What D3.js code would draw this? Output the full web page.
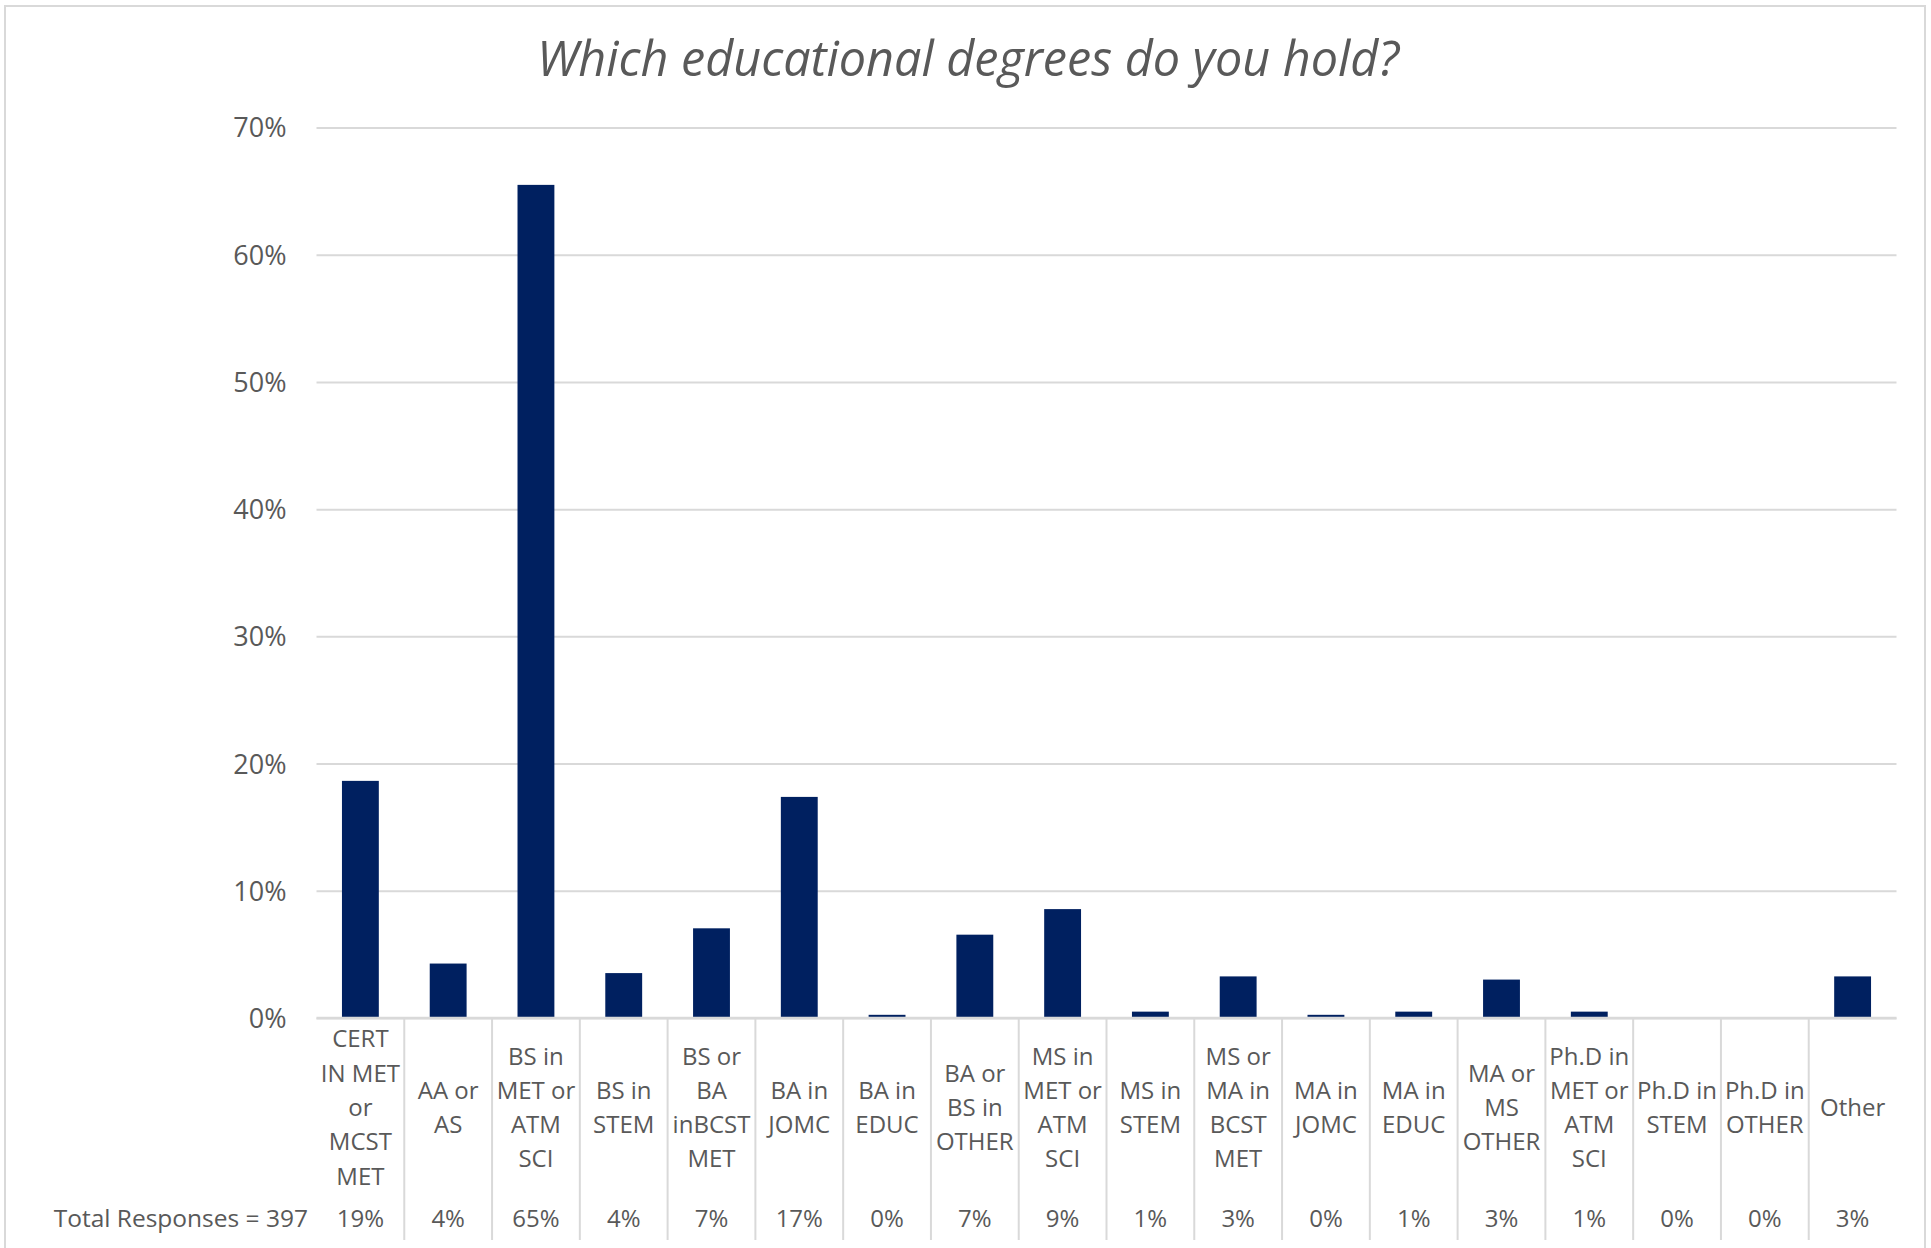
<!DOCTYPE html>
<html>
<head>
<meta charset="utf-8">
<script src="https://cdn.jsdelivr.net/npm/d3@7"></script>
<style>
  html, body { margin: 0; padding: 0; background: #ffffff; }
  svg { display: block; }
  text { font-family: "Open Sans", "Noto Sans", sans-serif; fill: #595959; }
</style>
</head>
<body>
<svg id="chart" width="1931" height="1248"></svg>
<script>
// ---- data ----
const title = "Which educational degrees do you hold?";
const seriesName = "Total Responses = 397";
const categories = [
  "CERT IN MET or MCST MET", "AA or AS", "BS in MET or ATM SCI", "BS in STEM",
  "BS or BA inBCST MET", "BA in JOMC", "BA in EDUC", "BA or BS in OTHER",
  "MS in MET or ATM SCI", "MS in STEM", "MS or MA in BCST MET", "MA in JOMC",
  "MA in EDUC", "MA or MS OTHER", "Ph.D in MET or ATM SCI", "Ph.D in STEM",
  "Ph.D in OTHER", "Other"
];
const categoryLines = [
  ["CERT", "IN MET", "or", "MCST", "MET"], ["AA or", "AS"], ["BS in", "MET or", "ATM", "SCI"],
  ["BS in", "STEM"], ["BS or", "BA", "inBCST", "MET"], ["BA in", "JOMC"], ["BA in", "EDUC"],
  ["BA or", "BS in", "OTHER"], ["MS in", "MET or", "ATM", "SCI"], ["MS in", "STEM"],
  ["MS or", "MA in", "BCST", "MET"], ["MA in", "JOMC"], ["MA in", "EDUC"],
  ["MA or", "MS", "OTHER"], ["Ph.D in", "MET or", "ATM", "SCI"], ["Ph.D in", "STEM"],
  ["Ph.D in", "OTHER"], ["Other"]
];
const values = [
  0.1864, 0.0428, 0.6549, 0.0353, 0.0705, 0.1738, 0.0025, 0.0655, 0.0856,
  0.0050, 0.0327, 0.0025, 0.0050, 0.0302, 0.0050, 0.0, 0.0, 0.0327
];
const tableLabels = ["19%","4%","65%","4%","7%","17%","0%","7%","9%","1%","3%","0%","1%","3%","1%","0%","0%","3%"];
const yTicks = [0, 0.1, 0.2, 0.3, 0.4, 0.5, 0.6, 0.7];

// ---- layout ----
const svg = d3.select("#chart");
const plotLeft = 316.5, plotRight = 1896.5, plotTop = 127.5, plotBottom = 1018;
const tableBottom = 1240;
const gridColor = "#d9d9d9";

// chart border
svg.append("rect")
  .attr("x", 5).attr("y", 6).attr("width", 1920).attr("height", 1260)
  .attr("fill", "none").attr("stroke", gridColor).attr("stroke-width", 2);

const x = d3.scaleBand().domain(categories).range([plotLeft, plotRight])
  .paddingInner(0.58).paddingOuter(0.29);
const xCol = d3.scaleBand().domain(categories).range([plotLeft, plotRight]).padding(0);
const y = d3.scaleLinear().domain([0, 0.7]).range([plotBottom, plotTop]);

// title
svg.append("text")
  .attr("x", 968).attr("y", 76)
  .attr("text-anchor", "middle")
  .style("font-style", "italic")
  .style("font-size", "48.5px")
  .text(title);

// gridlines + y labels via axis
const yAxis = d3.axisLeft(y).tickValues(yTicks).tickFormat(d3.format(".0%"))
  .tickSize(-(plotRight - plotLeft)).tickPadding(30);
const gy = svg.append("g").attr("transform", `translate(${plotLeft},0)`).call(yAxis);
gy.select(".domain").remove();
gy.selectAll(".tick line").attr("stroke", gridColor).attr("stroke-width", 2);
gy.selectAll(".tick text")
  .style("font-size", "27px").style("font-family", "'Open Sans', sans-serif")
  .attr("fill", "#595959").attr("dy", "0.35em");

// bars
svg.append("g").selectAll("rect").data(categories).join("rect")
  .attr("x", d => x(d))
  .attr("width", x.bandwidth())
  .attr("y", (d, i) => y(values[i]))
  .attr("height", (d, i) => y(0) - y(values[i]))
  .attr("fill", "#002060");

// axis baseline
svg.append("line")
  .attr("x1", plotLeft).attr("x2", plotRight)
  .attr("y1", plotBottom).attr("y2", plotBottom)
  .attr("stroke", gridColor).attr("stroke-width", 2.5);

// data-table vertical separators
svg.append("g").selectAll("line").data(categories.slice(1)).join("line")
  .attr("x1", d => xCol(d)).attr("x2", d => xCol(d))
  .attr("y1", plotBottom).attr("y2", tableBottom)
  .attr("stroke", gridColor).attr("stroke-width", 2);

// category labels (wrapped, centered vertically)
const lineH = 34.3, labelMid = 1107.5, capHalf = 8.5;
const catG = svg.append("g").selectAll("text").data(categories).join("text")
  .attr("text-anchor", "middle")
  .style("font-size", "24px");
catG.each(function(d, i) {
  const lines = categoryLines[i];
  const n = lines.length;
  const cx = xCol(d) + xCol.bandwidth() / 2;
  const firstBase = labelMid - (n - 1) * lineH / 2 + capHalf;
  d3.select(this).selectAll("tspan").data(lines).join("tspan")
    .attr("x", cx)
    .attr("y", (l, k) => firstBase + k * lineH)
    .text(l => l);
});

// table value row
const rowBase = 1226.5;
svg.append("g").selectAll("text").data(categories).join("text")
  .attr("x", d => xCol(d) + xCol.bandwidth() / 2)
  .attr("y", rowBase)
  .attr("text-anchor", "middle")
  .style("font-size", "24px")
  .text((d, i) => tableLabels[i]);

// series name
svg.append("text")
  .attr("x", 308).attr("y", rowBase)
  .attr("text-anchor", "end")
  .style("font-size", "24.5px")
  .text(seriesName);
</script>
</body>
</html>
